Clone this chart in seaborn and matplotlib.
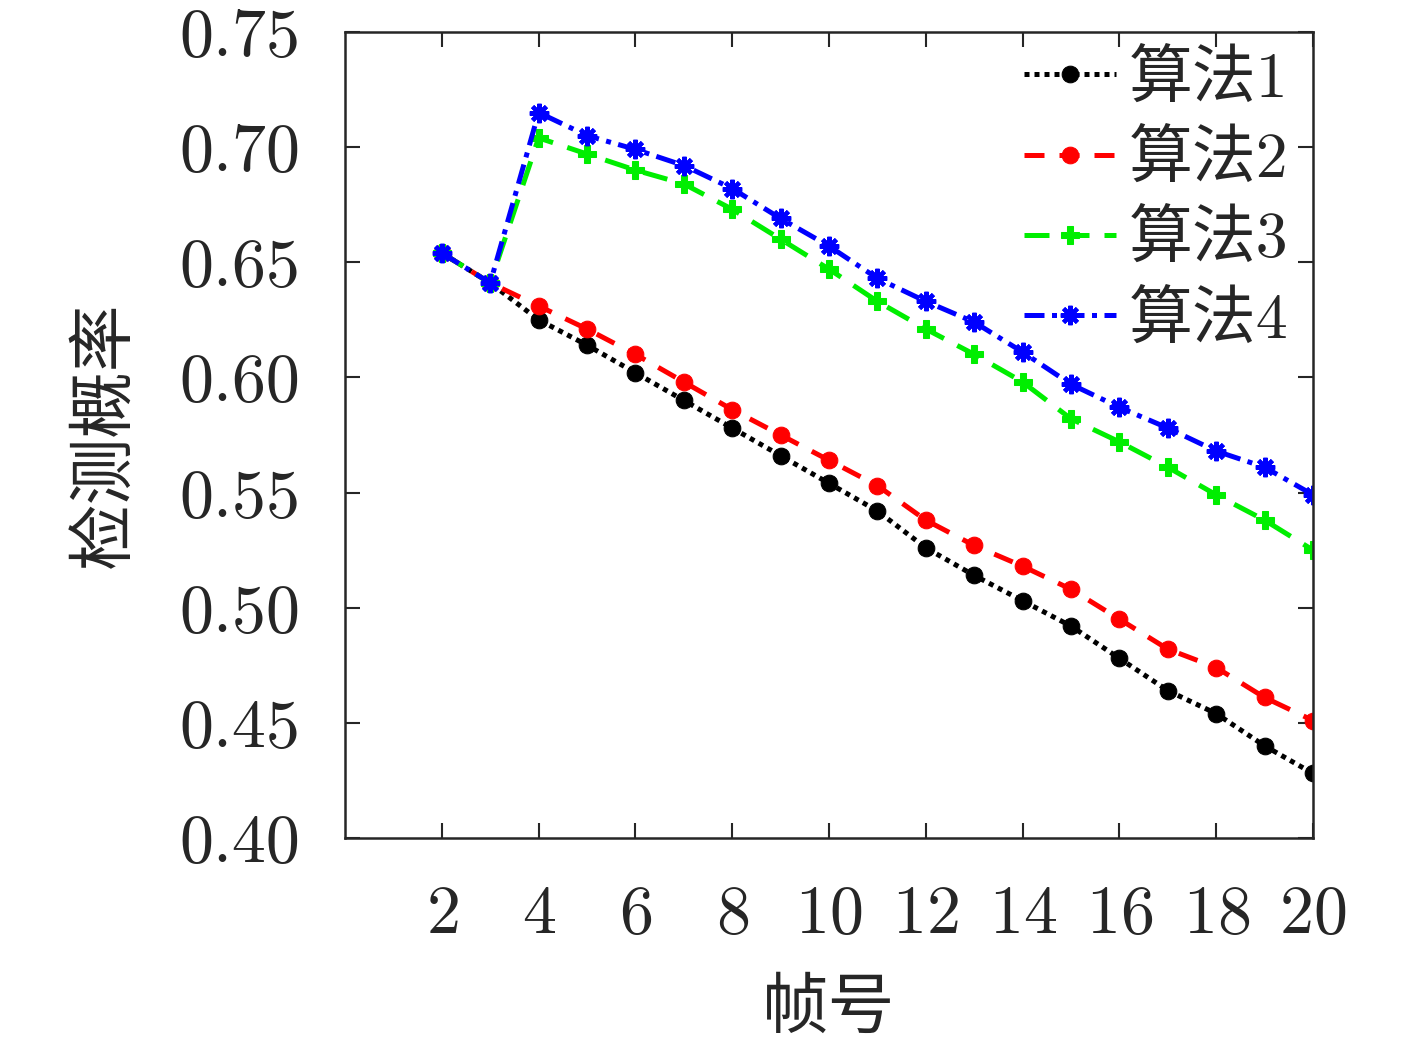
import pandas as pd
import matplotlib.pyplot as plt
import seaborn as sns

# 帧号
frames = list(range(2, 21))

# 检测概率
alg1 = [0.654, 0.641, 0.625, 0.614, 0.602, 0.590, 0.578, 0.566, 0.554, 0.542,
        0.526, 0.514, 0.503, 0.492, 0.478, 0.464, 0.454, 0.440, 0.428]
alg2 = [0.654, 0.641, 0.631, 0.621, 0.610, 0.598, 0.586, 0.575, 0.564, 0.553,
        0.538, 0.527, 0.518, 0.508, 0.495, 0.482, 0.474, 0.461, 0.451]
alg3 = [0.654, 0.641, 0.704, 0.697, 0.690, 0.684, 0.673, 0.660, 0.647, 0.633,
        0.621, 0.610, 0.598, 0.582, 0.572, 0.561, 0.549, 0.538, 0.525]
alg4 = [0.654, 0.641, 0.715, 0.705, 0.699, 0.692, 0.682, 0.669, 0.657, 0.643,
        0.633, 0.624, 0.611, 0.597, 0.587, 0.578, 0.568, 0.561, 0.549]

names = ["算法1", "算法2", "算法3", "算法4"]
yticks = [0.40, 0.45, 0.50, 0.55, 0.60, 0.65, 0.70, 0.75]
xticks = list(range(2, 21, 2))

sns.set_style("ticks")
plt.rcParams["font.family"] = ["cmr10", "Noto Sans CJK SC", "DejaVu Sans"]
plt.rcParams["axes.formatter.use_mathtext"] = True
plt.rcParams["axes.unicode_minus"] = False

df = pd.DataFrame({"帧号": frames, names[0]: alg1, names[1]: alg2,
                   names[2]: alg3, names[3]: alg4})

styles = [
    dict(color="black", linestyle=(0, (1, 1)), marker="o", markersize=12),
    dict(color="#ff0000", linestyle=(0, (4, 3)), marker="o", markersize=12),
    dict(color="#00ee00", linestyle=(0, (5, 3)), marker="P", markersize=13),
    dict(color="#0000ff", linestyle=(0, (4, 1.5, 1, 1.5)), marker=(8, 2, 0),
         markersize=14, markeredgewidth=3),
]

fig = plt.figure(figsize=(14.17, 10.51), dpi=100)
ax = fig.add_axes([0.2435, 0.2027, 0.6831, 0.7669])

for name, st in zip(names, styles):
    sns.lineplot(data=df, x="帧号", y=name, ax=ax, label=name, linewidth=3.6,
                 markeredgecolor=st["color"], **st)

ax.set_xlim(0, 20)
ax.set_ylim(0.40, 0.75)
ax.set_xticks(xticks)
ax.set_yticks(yticks)
ax.set_yticklabels([f"{v:.2f}" for v in yticks])
ax.tick_params(direction="in", length=11, width=1.5, top=True, right=True,
               labelsize=49)
ax.tick_params(axis="x", pad=34)
ax.tick_params(axis="y", pad=32)
for sp in ax.spines.values():
    sp.set_linewidth(1.8)

ax.set_xlabel("帧号", fontsize=48, labelpad=24)
ax.set_ylabel("检测概率", fontsize=48, labelpad=30)

ax.legend(loc="upper right", frameon=False, fontsize=46, handlelength=1.45,
          labelspacing=0.33, borderaxespad=0.0, handletextpad=0.2,
          borderpad=0.0, bbox_to_anchor=(0.975, 0.977))

fig.savefig("out.png", dpi=100)
